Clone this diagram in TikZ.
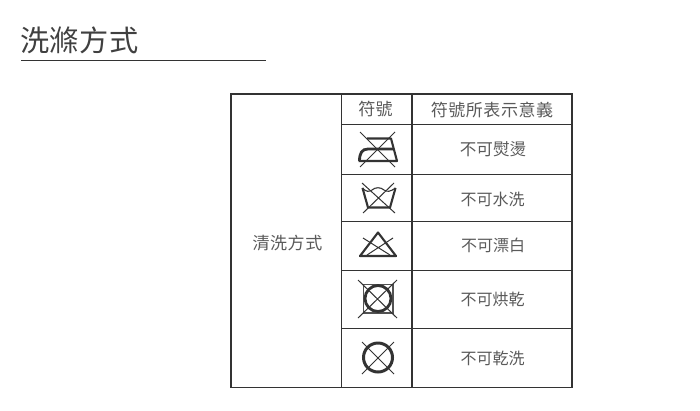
\documentclass[tikz,border=0pt]{standalone}
\usepackage{fontspec}
\newfontfamily\cjk{Noto Sans CJK TC}
\newfontfamily\cjkwide[LetterSpace=3]{Noto Sans CJK TC}
\newfontfamily\cjktitle[LetterSpace=2]{Noto Sans CJK TC}
\definecolor{ink}{HTML}{333333}
\definecolor{txt}{HTML}{5A5A5A}
\tikzset{
  grid/.style={draw=ink,line width=1.3pt},
  outer/.style={draw=ink,line width=1.5pt},
  cell/.style={inner sep=0pt,text=txt,font=\fontsize{16}{16}\selectfont\cjk},
  bigcell/.style={inner sep=0pt,text=txt,font=\fontsize{16.6}{16}\selectfont\cjk},
  headcell/.style={inner sep=0pt,text=txt,font=\fontsize{17}{17}\selectfont\cjkwide},
  titletext/.style={inner sep=0pt,text=black!75,font=\fontsize{29.2}{30}\selectfont\cjktitle},
  cross/.style={draw=ink,line width=1pt},
  sym/.style={draw=ink,line width=2.1pt,line join=round},
  symbold/.style={draw=ink,line width=2.8pt}
}
\begin{document}
\begin{tikzpicture}[x=1pt,y=-1pt]
\useasboundingbox[fill=white] (0,0) rectangle (700,410);
% title
\node[titletext,anchor=west] (title) at (20,40) {洗滌方式};
\draw[draw=ink,line width=0.9pt] (21,60.5) -- (266,60.5);
% table
\draw[outer] (231,94) rectangle (572,387.5);
\draw[grid] (341.5,94) -- (341.5,387.5);
\draw[grid] (412,94) -- (412,387.5);
\foreach \yy in {124.5,174.5,221.5,270.5,328.5}
  \draw[grid] (341.5,\yy) -- (572,\yy);
% texts
\node[headcell] (method) at (287.5,243.5) {清洗方式};
\node[headcell] (h1) at (375.5,109.5) {符號};
\node[headcell] (h2) at (492,109.5) {符號所表示意義};
\node[bigcell] (r1) at (493,149.5) {不可熨燙};
\node[cell] (r2) at (492.5,199) {不可水洗};
\node[cell] (r3) at (493,245) {不可漂白};
\node[cell] (r4) at (492.5,299.5) {不可烘乾};
\node[cell] (r5) at (492.5,358) {不可乾洗};
% iron
\draw[sym] (358.5,161) -- (397,161) -- (391,138.5) -- (367,138.5);
\draw[symbold] (359.5,161) .. controls (359.5,153) and (362,149) .. (368,149) -- (393,149);
\draw[cross] (360,132) -- (395,167) (395,132) -- (360,167);
% wash tub
\draw[sym] (362.5,188) -- (368,207.5) -- (390,207.5) -- (395.5,188);
\draw[draw=ink,line width=1.1pt] (362.5,188) .. controls (366,192) and (369,192) .. (372,190) .. controls (375,187) and (381,187) .. (384,190) .. controls (387,192) and (390,192) .. (395.5,188);
\draw[cross] (362,183) -- (395,213) (394,183) -- (363,213);
% triangle
\draw[sym] (378,232.5) -- (396,256) -- (360,256) -- cycle;
\draw[cross] (363,238) -- (390,255) (393,238) -- (367,255);
\draw[draw=ink,line width=2.4pt] (359,256) -- (397,256);
% tumble dry
\draw[draw=ink!85,line width=1.7pt] (363.5,284.5) rectangle (393,313);
\draw[symbold] (378,298.5) circle (13);
\draw[cross] (358,280) -- (397,318) (397,280) -- (358,318);
% dry clean
\draw[symbold,line width=3pt] (378,357.5) circle (14.5);
\draw[cross] (362,342) -- (394,374) (394,342) -- (362,374);
\end{tikzpicture}
\end{document}
